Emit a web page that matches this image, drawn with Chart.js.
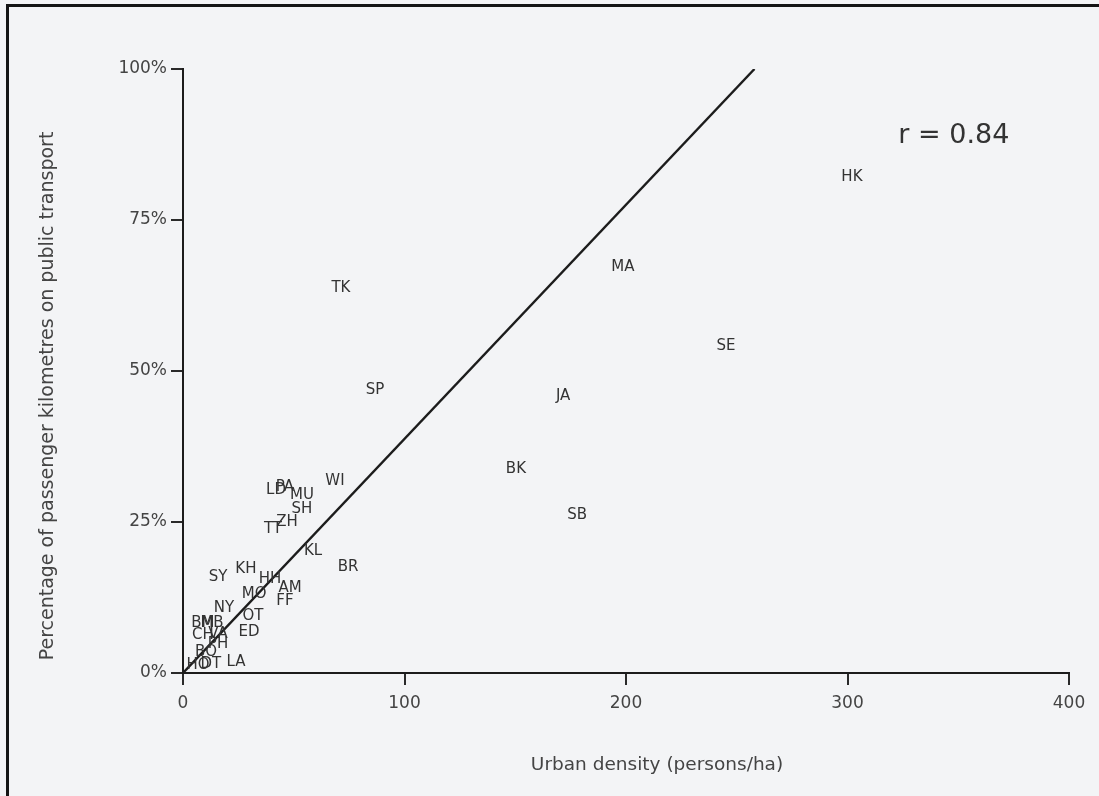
<!DOCTYPE html>
<html>
<head>
<meta charset="utf-8">
<script src="https://cdn.jsdelivr.net/npm/chart.js@4.4.1/dist/chart.umd.min.js"></script>
<style>
  html, body { margin: 0; padding: 0; background: #f3f4f6; }
  #wrap { position: relative; width: 1099px; height: 796px; overflow: hidden; }
  #c { position: absolute; left: 0; top: 0; }
  .frameTop { position: absolute; left: 6px; top: 4px; width: 1093px; height: 3px; background: #151515; }
  .frameLeft { position: absolute; left: 6px; top: 4px; width: 3px; height: 792px; background: #151515; }
</style>
</head>
<body>
<div id="wrap">
  <canvas id="c" width="1099" height="796"></canvas>
  <div class="frameTop"></div>
  <div class="frameLeft"></div>
</div>
<script>
// City codes (labels drawn as the data marks)
const cityCodes = ['HK','MA','SE','TK','SP','JA','BK','SB','WI','LD','PA','MU','SH','ZH','TT','KL','BR','KH','SY','HH','AM','MO','FF','NY','OT','BM','MB','CH','VA','ED','PH','BO','HO','DT','LA'];
// Urban density (persons/ha)
const densityValues = [302.0,198.6,245.1,71.3,86.7,171.6,150.3,177.9,68.6,42.0,46.0,53.7,53.7,47.0,40.6,58.7,74.5,28.4,15.8,39.3,48.3,32.1,46.0,18.5,31.6,9.0,13.1,9.0,15.8,29.8,15.8,10.4,6.8,12.6,23.9];
// Percentage of passenger kilometres on public transport
const transitShare = [82.1,67.2,54.2,63.8,46.9,45.9,33.7,26.2,31.8,30.3,30.8,29.4,27.2,24.9,23.9,20.1,17.6,17.2,15.9,15.6,14.1,13.1,11.9,10.8,9.5,8.3,8.3,6.3,6.5,6.8,4.8,3.5,1.3,1.5,1.8];
// Fitted line end points
const fitX = [0, 258];
const fitY = [0, 100];
// Axis ticks
const xTicks = [0, 100, 200, 300, 400];
const yTicks = [0, 25, 50, 75, 100];
const rText = 'r = 0.84';
const rPos = [348, 88.9];
const xTitle = 'Urban density (persons/ha)';
const yTitle = 'Percentage of passenger kilometres on public transport';

const points = densityValues.map((x, i) => ({ x: x, y: transitShare[i] }));
const fitLine = fitX.map((x, i) => ({ x: x, y: fitY[i] }));

const textColor = '#333';
const font = '"DejaVu Sans", sans-serif';

const labelPlugin = {
  id: 'labelPlugin',
  afterDatasetsDraw(chart) {
    const ctx = chart.ctx;
    const meta = chart.getDatasetMeta(1);
    ctx.save();
    ctx.fillStyle = textColor;
    ctx.font = '15px ' + font;
    ctx.textAlign = 'center';
    ctx.textBaseline = 'middle';
    meta.data.forEach((el, i) => {
      ctx.fillText(cityCodes[i], el.x, el.y);
    });
    const xs = chart.scales.x, ys = chart.scales.y;
    ctx.font = '27px ' + font;
    ctx.fillStyle = '#333';
    ctx.fillText(rText, xs.getPixelForValue(rPos[0]), ys.getPixelForValue(rPos[1]));
    // axis titles
    ctx.font = '18.5px ' + font;
    ctx.fillStyle = '#444';
    ctx.fillText(xTitle, 657, 765);
    ctx.font = '19px ' + font;
    ctx.translate(48, 396);
    ctx.rotate(-Math.PI / 2);
    ctx.fillText(yTitle, 0, 0);
    ctx.restore();
  }
};

new Chart(document.getElementById('c'), {
  type: 'scatter',
  data: {
    datasets: [
      {
        type: 'line',
        data: fitLine,
        borderColor: '#1c1c1c',
        borderWidth: 2.4,
        pointRadius: 0,
        fill: false,
        tension: 0
      },
      {
        data: points,
        pointRadius: 0,
        pointStyle: false,
        showLine: false
      }
    ]
  },
  options: {
    responsive: false,
    animation: false,
    events: [],
    layout: { padding: { left: 0, top: 69, right: 30, bottom: 0 } },
    plugins: { legend: { display: false }, tooltip: { enabled: false }, title: { display: false } },
    scales: {
      x: {
        type: 'linear',
        min: 0, max: 400,
        afterFit(scale) { scale.height = 123; },
        afterBuildTicks(scale) { scale.ticks = xTicks.map(v => ({ value: v })); },
        grid: { drawOnChartArea: false, drawTicks: true, tickLength: 12, color: '#2a2a2a', lineWidth: 2 },
        border: { display: true, color: '#1c1c1c', width: 2 },
        ticks: { color: '#444', font: { family: font, size: 17 }, padding: 8, maxRotation: 0 }
      },
      y: {
        type: 'linear',
        min: 0, max: 100,
        afterFit(scale) { scale.width = 183; },
        afterBuildTicks(scale) { scale.ticks = yTicks.map(v => ({ value: v })); },
        grid: { drawOnChartArea: false, drawTicks: true, tickLength: 12, color: '#2a2a2a', lineWidth: 2 },
        border: { display: true, color: '#1c1c1c', width: 2 },
        ticks: { color: '#444', font: { family: font, size: 17 }, padding: 4, callback: v => v + '%' }
      }
    }
  },
  plugins: [labelPlugin]
});
</script>
</body>
</html>
